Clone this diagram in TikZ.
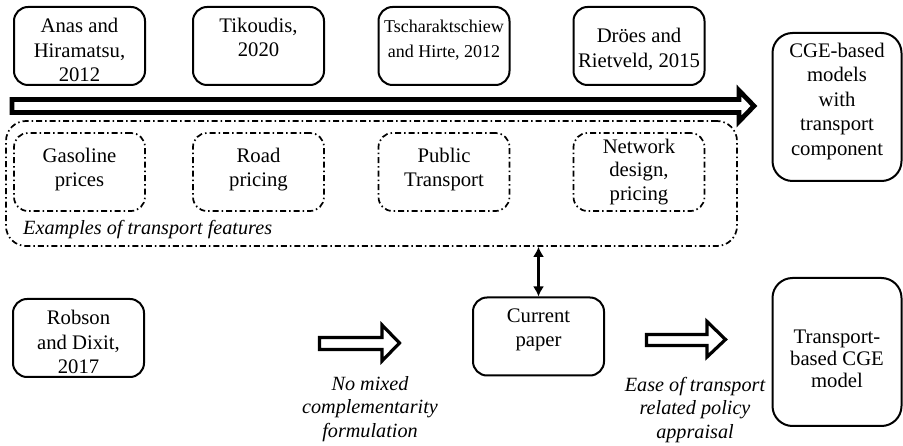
\documentclass[tikz,border=0pt]{standalone}
\usepackage{fontspec}
\setmainfont{Liberation Serif}
\usetikzlibrary{arrows.meta}
\begin{document}
\begin{tikzpicture}[x=1pt,y=-1pt,
  refbox/.style={draw, line width=2pt, rounded corners=14pt, minimum width=131pt, minimum height=78pt, inner sep=0pt},
  featbox/.style={draw, line width=1.7pt, rounded corners=14pt,
    dash pattern=on 6pt off 3pt on 1.5pt off 3pt, minimum width=131pt, minimum height=78pt, inner sep=0pt},
  txt/.style={align=center, font=\fontsize{20.7}{24.5}\selectfont, inner sep=0pt},
  note/.style={align=center, font=\fontsize{20.2}{23.5}\selectfont\itshape, inner sep=0pt},
  hollow/.style={draw, line width=3.2pt, fill=white, line join=miter},
  tip/.style={{Latex[length=10pt,width=11pt]}-{Latex[length=10pt,width=11pt]}},
]
\useasboundingbox (0,0) rectangle (903,446);

% literature boxes along the top
\node[refbox] (anas) at (79.5,46) {};
\node[txt] (anast) at (79.5,50) {Anas and\\Hiramatsu,\\2012};
\node[refbox] (tiko) at (258.5,46) {};
\node[txt] (tikot) at (258.5,37.5) {Tikoudis,\\2020};
\node[refbox] (tsch) at (444,46) {};
\node[txt, font=\fontsize{18}{25}\selectfont] (tscht) at (444,40.5) {Tscharaktschiew\\and Hirte, 2012};
\node[refbox] (droe) at (639,46) {};
\node[txt] (droet) at (639,49.5) {Dröes and\\Rietveld, 2015};

% outcome boxes on the right
\node[refbox, rounded corners=20pt, minimum width=129pt, minimum height=148pt] (cge) at (837,107) {};
\node[txt] (cget) at (837,101.5) {CGE-based\\models\\with\\transport\\component};
\node[refbox, rounded corners=20pt, minimum width=129pt, minimum height=148pt] (tcge) at (837,352) {};
\node[txt, font=\fontsize{20.7}{22}\selectfont] (tcget) at (837,358.5) {Transport-\\based CGE\\model};

% timeline arrow
\draw[line width=4.8pt, line join=miter, fill=white]
  (12,99.5) -- (739,99.5) -- (739,90.5) -- (754,106) -- (739,121.5) -- (739,112.5) -- (12,112.5) -- cycle;

% transport features
\node[featbox, rounded corners=20pt, minimum width=731pt, minimum height=125pt] (feats) at (371.5,183.5) {};
\node[featbox] (gas) at (79.5,172) {};
\node[txt] (gast) at (79.5,169.5) {Gasoline\\prices};
\node[featbox] (road) at (258.5,172) {};
\node[txt] (roadt) at (258.5,169.5) {Road\\pricing};
\node[featbox] (pub) at (444,172) {};
\node[txt] (pubt) at (444,169.5) {Public\\Transport};
\node[featbox] (net) at (639,172) {};
\node[txt, font=\fontsize{20.7}{23.5}\selectfont] (nett) at (639,172) {Network\\design,\\pricing};
\node[note, anchor=west] (exam) at (23,230) {Examples of transport features};

% lower row
\node[refbox] (robs) at (78.5,338) {};
\node[txt] (robst) at (78.5,342) {Robson\\and Dixit,\\2017};
\node[refbox] (cur) at (538.5,336.5) {};
\node[txt] (curt) at (538.5,330) {Current\\paper};

\draw[tip, line width=3pt] (cur.north |- feats.south) -- (cur.north);

% hollow arrows with their notes
\draw[hollow] (319.5,337.5) -- (382,337.5) -- (382,325) -- (399.5,343) -- (382,361) -- (382,349.5) -- (319.5,349.5) -- cycle;
\node[note] (nomix) at (370,409) {No mixed\\complementarity\\formulation};
\draw[hollow] (646.5,334.5) -- (707,334.5) -- (707,321.5) -- (725.5,339.5) -- (707,357) -- (707,345.5) -- (646.5,345.5) -- cycle;
\node[note] (ease) at (695,410) {Ease of transport\\related policy\\appraisal};
\end{tikzpicture}
\end{document}
